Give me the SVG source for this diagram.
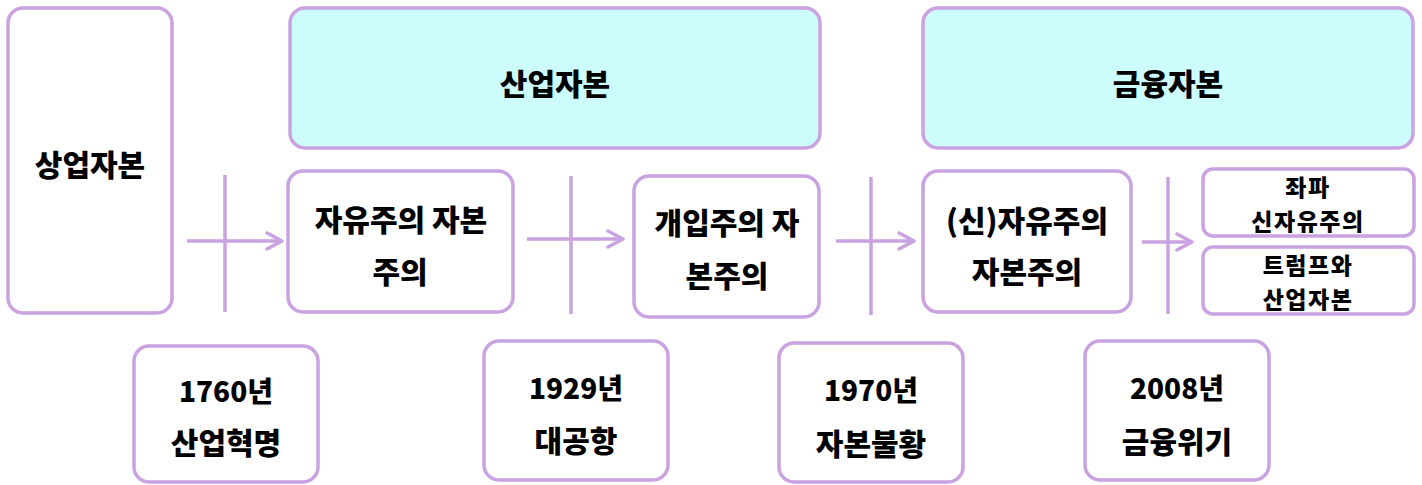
<svg xmlns="http://www.w3.org/2000/svg" width="1422" height="485" viewBox="0 0 1422 485">
<defs>
<style>
.box{fill:#ffffff;stroke:#c9a2e2;stroke-width:3.5}
.hdr{fill:#ccfcfc;stroke:#c9a2e2;stroke-width:3.5}
.ln{stroke:#c9a2e2;stroke-width:3.5;fill:none}
text{font-family:"Noto Sans CJK KR","Noto Sans",sans-serif;font-weight:900;fill:#000;text-anchor:middle;dominant-baseline:central}
.t30{font-size:30px}
.t28{font-size:28px}
.t23{font-size:23px;letter-spacing:1.5px}
</style>
<marker id="arr" viewBox="0 0 20 20" refX="17" refY="10" markerWidth="20" markerHeight="20" markerUnits="userSpaceOnUse" orient="auto">
<path d="M2,2 L17,10 L2,18" fill="none" stroke="#c9a2e2" stroke-width="3.5" stroke-linecap="round" stroke-linejoin="round"/>
</marker>
</defs>
<rect width="1422" height="485" fill="#ffffff"/>

<g id="connectors">
<line class="ln" x1="225" y1="175" x2="225" y2="312"/>
<line class="ln" x1="187" y1="241" x2="282" y2="241" marker-end="url(#arr)"/>
<line class="ln" x1="571" y1="176" x2="571" y2="314"/>
<line class="ln" x1="527" y1="239" x2="623" y2="239" marker-end="url(#arr)"/>
<line class="ln" x1="871" y1="177" x2="871" y2="315"/>
<line class="ln" x1="836" y1="241" x2="914" y2="241" marker-end="url(#arr)"/>
<line class="ln" x1="1168" y1="177" x2="1168" y2="314"/>
<line class="ln" x1="1142" y1="242" x2="1192" y2="242" marker-end="url(#arr)"/>
</g>

<g id="n-sangeop">
<rect class="box" x="8" y="8" width="164" height="305" rx="15"/>
<text class="t30" x="90" y="163">상업자본</text>
</g>

<g id="n-saneop-header">
<rect class="hdr" x="290" y="8" width="530" height="140" rx="15"/>
<text class="t30" x="555" y="82">산업자본</text>
</g>

<g id="n-geumyung-header">
<rect class="hdr" x="923" y="8" width="490" height="140" rx="15"/>
<text class="t30" x="1168" y="82">금융자본</text>
</g>

<g id="n-liberal">
<rect class="box" x="288" y="171" width="225" height="141" rx="15"/>
<text class="t30" x="401" y="218">자유주의 자본</text>
<text class="t30" x="400" y="270">주의</text>
</g>

<g id="n-interv">
<rect class="box" x="634" y="176" width="185" height="141" rx="15"/>
<text class="t30" x="727" y="221">개입주의 자</text>
<text class="t30" x="727" y="274">본주의</text>
</g>

<g id="n-neolib">
<rect class="box" x="923" y="171" width="208" height="141" rx="15"/>
<text class="t30" x="1027" y="219">(신)자유주의</text>
<text class="t30" x="1027" y="270">자본주의</text>
</g>

<g id="n-left">
<rect class="box" x="1203" y="169" width="211" height="67" rx="10"/>
<text class="t23" x="1308" y="186">좌파</text>
<text class="t23" x="1308" y="220">신자유주의</text>
</g>

<g id="n-trump">
<rect class="box" x="1203" y="247" width="211" height="67" rx="10"/>
<text class="t23" x="1308" y="264">트럼프와</text>
<text class="t23" x="1308" y="298">산업자본</text>
</g>

<g id="n-1760">
<rect class="box" x="134" y="346" width="184" height="136" rx="15"/>
<text class="t28" x="226" y="390">1760년</text>
<text class="t30" x="226" y="441">산업혁명</text>
</g>

<g id="n-1929">
<rect class="box" x="484" y="341" width="184" height="139" rx="15"/>
<text class="t28" x="576" y="387">1929년</text>
<text class="t30" x="576" y="439">대공항</text>
</g>

<g id="n-1970">
<rect class="box" x="779" y="343" width="184" height="139" rx="15"/>
<text class="t28" x="871" y="389">1970년</text>
<text class="t30" x="871" y="442">자본불황</text>
</g>

<g id="n-2008">
<rect class="box" x="1085" y="341" width="184" height="139" rx="15"/>
<text class="t28" x="1177" y="387">2008년</text>
<text class="t30" x="1177" y="440">금융위기</text>
</g>
</svg>
